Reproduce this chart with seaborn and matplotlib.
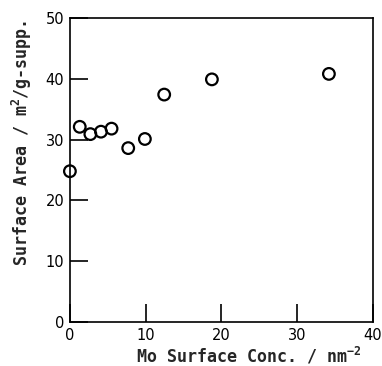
import matplotlib
matplotlib.use("Agg")
import matplotlib.pyplot as plt
import seaborn as sns
import pandas as pd

mo_conc = [0.0, 1.3, 2.7, 4.1, 5.5, 7.7, 9.9, 12.45, 18.75, 34.2]
surface_area = [24.8, 32.1, 30.9, 31.3, 31.8, 28.6, 30.1, 37.4, 39.9, 40.8]
x_ticks = [0, 10, 20, 30, 40]
y_ticks = [0, 10, 20, 30, 40, 50]

sns.set_style("ticks")
plt.rcParams['font.family'] = ['DejaVu Sans']
plt.rcParams['mathtext.default'] = 'regular'

df = pd.DataFrame({"x": mo_conc, "y": surface_area})

fig = plt.figure(figsize=(3.82, 3.66), dpi=100)
ax = fig.add_axes([0.183, 0.120, 0.793, 0.831])
sns.scatterplot(data=df, x="x", y="y", ax=ax, marker="o", s=70,
                facecolors="none", edgecolor="black", linewidth=1.6, clip_on=False)

ax.set_xlim(0, 40)
ax.set_ylim(0, 50)
ax.set_xticks(x_ticks)
ax.set_yticks(y_ticks)
ax.tick_params(direction="in", length=13, width=1.2, labelsize=10.5, colors="black", pad=4)
for s in ax.spines.values():
    s.set_linewidth(1.2)
    s.set_color("black")

mono = dict(family="DejaVu Sans Mono", weight="bold", fontsize=12)
ax.set_xlabel("Mo Surface Conc. / nm$^{-2}$", **mono)
ax.set_ylabel("Surface Area / m$^{2}$/g-supp.", **mono)
ax.xaxis.label.set_va("baseline")
ax.xaxis.set_label_coords(0.589, -0.133)
ax.yaxis.set_label_coords(-0.12, 0.59)

fig.savefig("out.png", dpi=100)
